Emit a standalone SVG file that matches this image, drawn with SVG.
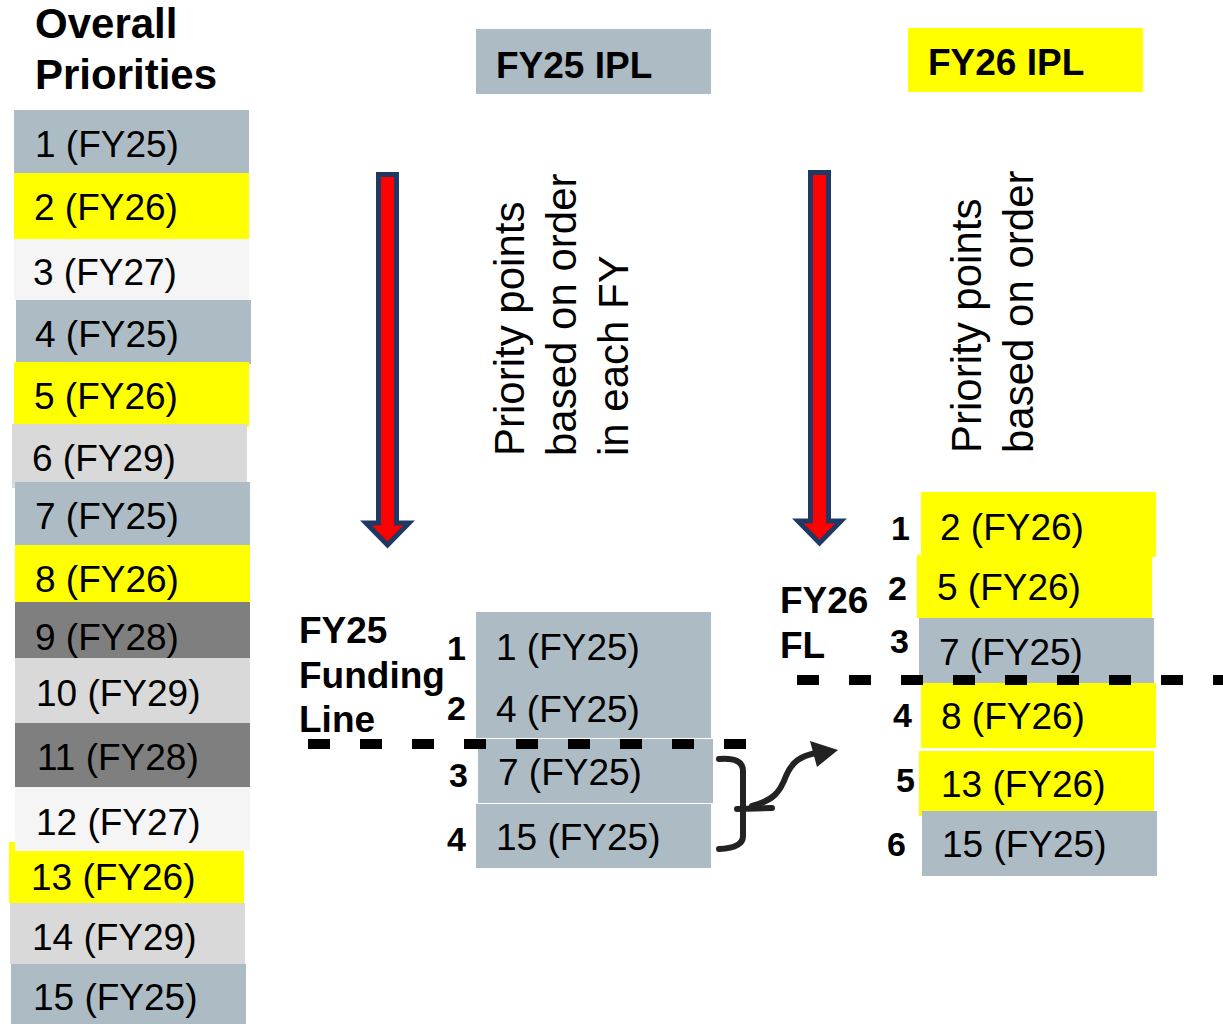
<svg xmlns="http://www.w3.org/2000/svg" width="1223" height="1024" viewBox="0 0 1223 1024">
<style>
  .t{font-family:"Liberation Sans",Arial,sans-serif;font-size:37px;fill:#000}
  .b{font-family:"Liberation Sans",Arial,sans-serif;font-weight:bold;fill:#000}
  .n{font-family:"Liberation Sans",Arial,sans-serif;font-weight:bold;font-size:34px;fill:#000}
  .r{font-family:"Liberation Sans",Arial,sans-serif;font-size:42px;fill:#000}
  .g{fill:#ADBCC4}
  .y{fill:#FFFF00}
  .w{fill:#F5F5F5}
  .l{fill:#D9D9D9}
  .d{fill:#7F7F7F}
  .arrow{fill:#FF0000;stroke:#1F3864;stroke-width:5;stroke-linejoin:miter}
  .fl{stroke:#000;stroke-width:10;stroke-dasharray:22 30;fill:none}
  .br{stroke:#222;stroke-width:6;fill:none;stroke-linecap:round}
</style>
<rect width="1223" height="1024" fill="#fff"/>

<g id="title">
  <text class="b" x="35" y="38" font-size="42">Overall</text>
  <text class="b" x="35" y="89" font-size="42">Priorities</text>
</g>

<g id="overall-list">
  <g id="o1"><rect class="g" x="14" y="110" width="235" height="63"/><text class="t" x="35" y="157">1 (FY25)</text></g>
  <g id="o2"><rect class="y" x="14" y="173" width="235" height="66"/><text class="t" x="34" y="220">2 (FY26)</text></g>
  <g id="o3"><rect class="w" x="14" y="239" width="235" height="61"/><text class="t" x="33" y="285">3 (FY27)</text></g>
  <g id="o4"><rect class="g" x="16" y="300" width="235" height="64"/><text class="t" x="35" y="347">4 (FY25)</text></g>
  <g id="o5"><rect class="y" x="14" y="362" width="235" height="65"/><text class="t" x="34" y="409">5 (FY26)</text></g>
  <g id="o6"><rect class="l" x="12" y="424" width="235" height="64"/><text class="t" x="32" y="471">6 (FY29)</text></g>
  <g id="o7"><rect class="g" x="15" y="482" width="235" height="63"/><text class="t" x="35" y="529">7 (FY25)</text></g>
  <g id="o8"><rect class="y" x="15" y="545" width="235" height="57"/><text class="t" x="35" y="592">8 (FY26)</text></g>
  <g id="o9"><rect class="d" x="15" y="602" width="235" height="56"/><text class="t" x="35" y="650">9 (FY28)</text></g>
  <g id="o10"><rect class="l" x="15" y="658" width="235" height="65"/><text class="t" x="36" y="706">10 (FY29)</text></g>
  <g id="o13"><rect class="y" x="9" y="842" width="235" height="61"/><text class="t" x="31" y="890">13 (FY26)</text></g>
  <g id="o11"><rect class="d" x="15" y="723" width="235" height="64"/><text class="t" x="37" y="770">11 (FY28)</text></g>
  <g id="o12"><rect class="w" x="15" y="787" width="235" height="64"/><text class="t" x="36" y="835">12 (FY27)</text></g>
  <g id="o14"><rect class="l" x="10" y="903" width="235" height="61"/><text class="t" x="32" y="950">14 (FY29)</text></g>
  <g id="o15"><rect class="g" x="11" y="964" width="235" height="60"/><text class="t" x="33" y="1010">15 (FY25)</text></g>
</g>

<g id="fy25-header">
  <rect class="g" x="476" y="29" width="235" height="65"/>
  <text class="b" x="496" y="78" font-size="37">FY25 IPL</text>
</g>
<g id="fy26-header">
  <rect class="y" x="908" y="28" width="235" height="64"/>
  <text class="b" x="928" y="75" font-size="37">FY26 IPL</text>
</g>

<g id="fy25-arrow">
  <polygon class="arrow" points="378.5,174.5 396.5,174.5 396.5,523 409,523 387.5,545 366,523 378.5,523"/>
</g>
<g id="fy26-arrow">
  <polygon class="arrow" points="810.5,172.5 828.5,172.5 828.5,521 841,521 819.5,543 798,521 810.5,521"/>
</g>

<g id="fy25-note">
  <text class="r" transform="translate(524,456) rotate(-90)">Priority points</text>
  <text class="r" transform="translate(576,456) rotate(-90)">based on order</text>
  <text class="r" transform="translate(628,456) rotate(-90)">in each FY</text>
</g>
<g id="fy26-note">
  <text class="r" transform="translate(981,453) rotate(-90)">Priority points</text>
  <text class="r" transform="translate(1033,453) rotate(-90)">based on order</text>
</g>

<g id="fy25-label">
  <text class="b" font-size="37" x="299" y="643">FY25</text>
  <text class="b" font-size="37" x="299" y="688">Funding</text>
  <text class="b" font-size="37" x="299" y="732">Line</text>
</g>

<g id="fy25-list">
  <g id="a1"><rect class="g" x="476" y="612" width="235" height="126"/><text class="t" x="496" y="660">1 (FY25)</text><text class="n" x="447" y="660">1</text></g>
  <text class="t" x="496" y="722">4 (FY25)</text><text class="n" x="447" y="720">2</text>
  <g id="a3"><rect class="g" x="478" y="739" width="235" height="64"/><text class="t" x="498" y="785">7 (FY25)</text><text class="n" x="449" y="787">3</text></g>
  <g id="a4"><rect class="g" x="476" y="804" width="235" height="64"/><text class="t" x="496" y="850">15 (FY25)</text><text class="n" x="447" y="851">4</text></g>
</g>

<g id="fy26-label">
  <text class="b" font-size="37" x="780" y="613">FY26</text>
  <text class="b" font-size="37" x="780" y="658">FL</text>
</g>

<g id="fy26-list">
  <g id="b1"><rect class="y" x="921" y="492" width="235" height="65"/><text class="t" x="940" y="540">2 (FY26)</text><text class="n" x="891" y="540">1</text></g>
  <g id="b2"><rect class="y" x="917" y="555" width="235" height="63"/><text class="t" x="937" y="600">5 (FY26)</text><text class="n" x="888" y="600">2</text></g>
  <g id="b3"><rect class="g" x="919" y="618" width="235" height="66"/><text class="t" x="939" y="665">7 (FY25)</text><text class="n" x="890" y="653">3</text></g>
  <g id="b4"><rect class="y" x="921" y="683" width="235" height="65"/><text class="t" x="941" y="729">8 (FY26)</text><text class="n" x="893" y="727">4</text></g>
  <g id="b5"><rect class="y" x="919" y="751" width="235" height="65"/><text class="t" x="941" y="797">13 (FY26)</text><text class="n" x="896" y="792">5</text></g>
  <g id="b6"><rect class="g" x="922" y="811" width="235" height="65"/><text class="t" x="942" y="857">15 (FY25)</text><text class="n" x="887" y="856">6</text></g>
</g>

<g id="connectors">
  <line class="fl" x1="308" y1="744" x2="750" y2="744"/>
  <line class="fl" x1="797" y1="680" x2="1223" y2="680"/>
  <path class="br" d="M719,759 Q743,757 743,771 L743,836 Q743,848 719,849"/>
  <path class="br" d="M737,809 L772,808"/>
  <path class="br" d="M752,806 C774,800 780,792 786,776 C792,762 800,756 816,753"/>
  <polygon points="810,741 838,750 817,767" fill="#222"/>
</g>
</svg>
